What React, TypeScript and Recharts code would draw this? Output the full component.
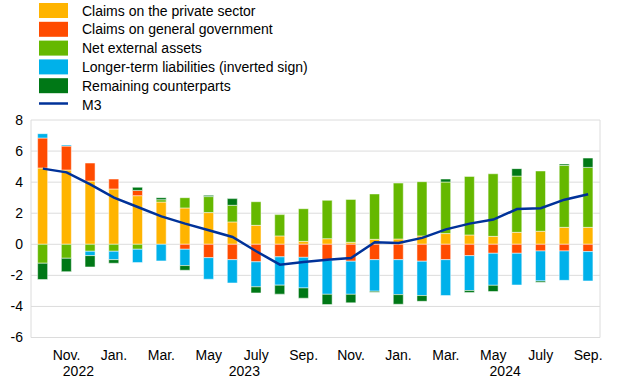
import React from 'react';
import { ComposedChart, Bar, Line, XAxis, YAxis, CartesianGrid } from 'recharts';

const categories = [
  'Oct 2022', 'Nov 2022', 'Dec 2022', 'Jan 2023', 'Feb 2023', 'Mar 2023', 'Apr 2023', 'May 2023',
  'Jun 2023', 'Jul 2023', 'Aug 2023', 'Sep 2023', 'Oct 2023', 'Nov 2023', 'Dec 2023', 'Jan 2024',
  'Feb 2024', 'Mar 2024', 'Apr 2024', 'May 2024', 'Jun 2024', 'Jul 2024', 'Aug 2024', 'Sep 2024',
];
const monthTickLabels = [
  '', 'Nov.', '', 'Jan.', '', 'Mar.', '', 'May', '', 'July', '', 'Sep.',
  '', 'Nov.', '', 'Jan.', '', 'Mar.', '', 'May', '', 'July', '', 'Sep.',
];
const yearTickLabels = [
  '', '2022', '', '', '', '', '', '', '', '2023', '', '',
  '', '', '', '', '', '', '', '2024', '', '', '', '',
];

const privateSector = [4.91, 4.78, 4.07, 3.56, 3.13, 2.72, 2.34, 2.04, 1.44, 1.22, 0.54, 0.19, 0.36, 0.13, 0.32, 0.34, 0.54, 0.69, 0.6, 0.51, 0.77, 0.84, 1.09, 1.09];
const generalGov = [1.93, 1.54, 1.16, 0.64, 0.34, 0, -0.32, -0.86, -0.99, -1.13, -0.81, -0.84, -1.03, -1.09, -0.99, -0.99, -1.09, -0.99, -0.73, -0.58, -0.58, -0.43, -0.43, -0.47];
const netExternal = [-1.22, -0.9, -0.45, -0.45, -0.32, 0.15, 0.66, 1.03, 1.07, 1.52, 1.37, 2.1, 2.47, 2.76, 2.92, 3.6, 3.49, 3.32, 3.77, 4.03, 3.62, 3.88, 3.99, 3.86];
const longerTerm = [0.28, 0.07, -0.28, -0.54, -0.86, -1.07, -1.05, -1.39, -1.5, -1.61, -1.82, -1.97, -2.19, -2.13, -2.03, -2.25, -2.21, -2.31, -2.25, -2.06, -2.04, -1.93, -1.89, -1.89];
const remaining = [-1.05, -0.86, -0.73, -0.23, 0.2, 0.13, -0.3, 0.08, 0.43, -0.39, -0.58, -0.66, -0.66, -0.55, -0.07, -0.62, -0.37, 0.19, -0.13, -0.4, 0.48, -0.08, 0.09, 0.6];
const m3 = [4.87, 4.63, 3.85, 3.0, 2.4, 1.8, 1.33, 0.9, 0.47, -0.45, -1.31, -1.14, -0.99, -0.88, 0.13, 0.09, 0.41, 0.96, 1.33, 1.59, 2.27, 2.32, 2.87, 3.22];
const yTicks = [-6, -4, -2, 0, 2, 4, 6, 8];

const data = categories.map((cat, i) => ({
  cat,
  privateSector: privateSector[i],
  generalGov: generalGov[i],
  netExternal: netExternal[i],
  longerTerm: longerTerm[i],
  remaining: remaining[i],
  m3: m3[i],
}));

const FONT = '"Liberation Sans", Arial, Helvetica, sans-serif';
const COLORS = {
  privateSector: '#FFB400',
  generalGov: '#FF4B00',
  netExternal: '#65B800',
  longerTerm: '#00B1EA',
  remaining: '#007816',
  m3: '#003299',
};

const legendItems = [
  { label: 'Claims on the private sector', color: COLORS.privateSector, type: 'rect' },
  { label: 'Claims on general government', color: COLORS.generalGov, type: 'rect' },
  { label: 'Net external assets', color: COLORS.netExternal, type: 'rect' },
  { label: 'Longer-term liabilities (inverted sign)', color: COLORS.longerTerm, type: 'rect' },
  { label: 'Remaining counterparts', color: COLORS.remaining, type: 'rect' },
  { label: 'M3', color: COLORS.m3, type: 'line' },
];

const YEAR_SHIFT: Record<string, number> = { '2022': 0.5, '2023': -0.5, '2024': 0.5 };
const BAND = (600 - 31) / 24;

const XTick = (props: any) => {
  const { x, y, index } = props;
  const month = monthTickLabels[index];
  const year = yearTickLabels[index];
  return (
    <g>
      {month && (
        <text x={x} y={y + 22} textAnchor="middle" fontFamily={FONT} fontSize={14} fill="#000">
          {month}
        </text>
      )}
      {year && (
        <text x={x + (YEAR_SHIFT[year] || 0) * BAND} y={y + 38} textAnchor="middle" fontFamily={FONT} fontSize={14} fill="#000">
          {year}
        </text>
      )}
    </g>
  );
};

export default function App() {
  return (
    <div style={{ position: 'absolute', left: 0, top: 0, width: 620, height: 387, background: '#fff' }}>
      <svg width={340} height={115} style={{ position: 'absolute', left: 0, top: 0 }}>
        {legendItems.map((it, i) => {
          const cy = 10.5 + i * 18.8;
          return (
            <g key={it.label}>
              {it.type === 'rect' ? (
                <rect x={39} y={cy - 7.5} width={29} height={15} fill={it.color} />
              ) : (
                <line x1={39} x2={68} y1={cy - 1} y2={cy - 1} stroke={it.color} strokeWidth={2.5} />
              )}
              <text x={82} y={cy + 5} fontFamily={FONT} fontSize={14} fill="#000">
                {it.label}
              </text>
            </g>
          );
        })}
      </svg>
      <ComposedChart
        width={620}
        height={387}
        data={data}
        stackOffset="sign"
        barCategoryGap="28%"
        margin={{ top: 120, right: 20, bottom: 0, left: 0 }}
        style={{ position: 'absolute', left: 0, top: 0 }}
      >
        <CartesianGrid stroke="#dcdcdc" strokeWidth={1} verticalPoints={[31, 600]} />
        <XAxis
          dataKey="cat"
          interval={0}
          height={49.5}
          tickLine={false}
          axisLine={false}
          tickSize={0}
          tickMargin={0}
          tick={<XTick />}
        />
        <YAxis
          domain={[-6, 8]}
          ticks={yTicks}
          width={31}
          tickLine={false}
          axisLine={false}
          tickSize={0}
          tickMargin={8}
          tick={{ fontFamily: FONT, fontSize: 14, fill: '#000' }}
          allowDataOverflow
        />
        <Bar dataKey="privateSector" stackId="a" fill={COLORS.privateSector} stroke="#fff" strokeWidth={0.5} isAnimationActive={false} />
        <Bar dataKey="generalGov" stackId="a" fill={COLORS.generalGov} stroke="#fff" strokeWidth={0.5} isAnimationActive={false} />
        <Bar dataKey="netExternal" stackId="a" fill={COLORS.netExternal} stroke="#fff" strokeWidth={0.5} isAnimationActive={false} />
        <Bar dataKey="longerTerm" stackId="a" fill={COLORS.longerTerm} stroke="#fff" strokeWidth={0.5} isAnimationActive={false} />
        <Bar dataKey="remaining" stackId="a" fill={COLORS.remaining} stroke="#fff" strokeWidth={0.5} isAnimationActive={false} />
        <Line dataKey="m3" type="linear" stroke={COLORS.m3} strokeWidth={2.5} dot={false} activeDot={false} isAnimationActive={false} />
      </ComposedChart>
    </div>
  );
}
